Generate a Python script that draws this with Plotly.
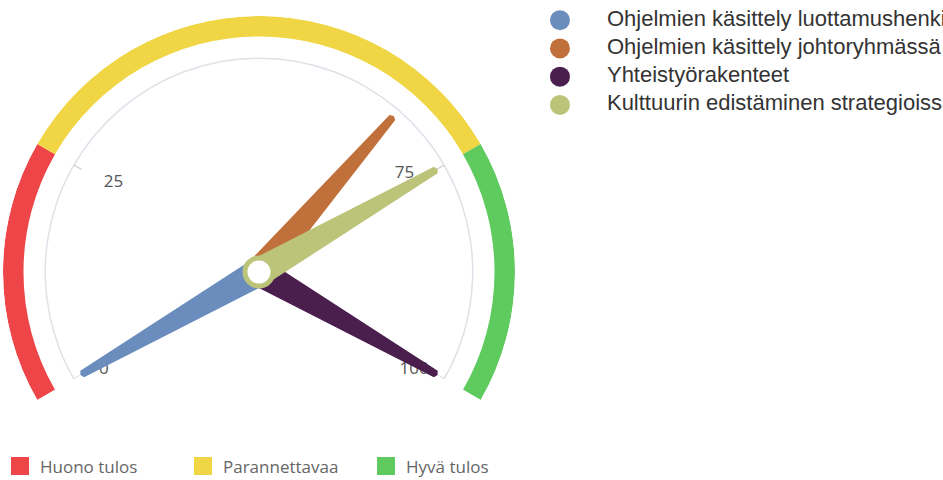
import plotly.graph_objects as go

# gauge needles (one per topic)
NEEDLE_NAMES = [
    "Ohjelmien käsittely luottamushenkilöiden kanssa",
    "Ohjelmien käsittely johtoryhmässä",
    "Yhteistyörakenteet",
    "Kulttuurin edistäminen strategioissa",
]
NEEDLE_VALUES = [0, 67, 100, 75]
NEEDLE_COLORS = ["#6a8dbe", "#c0703a", "#4a1f4e", "#bcc47a"]

# coloured bands
BAND_NAMES = ["Huono tulos", "Parannettavaa", "Hyvä tulos"]
BAND_FROM = [0, 25, 75]
BAND_TO = [25, 75, 100]
BAND_COLORS = ["#ee4549", "#f0d544", "#5fcb5f"]

# axis ticks
TICK_VALUES = [0, 25, 75, 100]
TICK_LABELS = ["0", "25", "75", "100"]
TICK_TEXTPOS = ["bottom center", "middle right", "top left", "bottom center"]

GAUGE_MIN, GAUGE_MAX = 0, 100
START_ANGLE, END_ANGLE = -120, 120


def to_deg(v):
    return START_ANGLE + (v - GAUGE_MIN) / (GAUGE_MAX - GAUGE_MIN) * (END_ANGLE - START_ANGLE)


fig = go.Figure()

# bands (polar: half-open gauge sector)
for name, lo, hi, col in zip(BAND_NAMES, BAND_FROM, BAND_TO, BAND_COLORS):
    fig.add_trace(go.Barpolar(
        r=[0.08], base=[0.92],
        theta=[to_deg((lo + hi) / 2)], width=[to_deg(hi) - to_deg(lo)],
        marker=dict(color=col, line=dict(width=0)),
        showlegend=False, hoverinfo="skip",
    ))
    fig.add_trace(go.Scatterpolar(
        r=[None], theta=[None], mode="markers", name=name,
        marker=dict(symbol="square", size=16, color=col, line=dict(width=2, color=col)),
        legend="legend2",
    ))

# thin grey scale arc
fig.add_trace(go.Barpolar(
    r=[0.006], base=[0.832], theta=[0], width=[END_ANGLE - START_ANGLE + 4],
    marker=dict(color="#e2e0e8", line=dict(width=0)),
    showlegend=False, hoverinfo="skip",
))

# tick marks and labels
for v in TICK_VALUES:
    fig.add_trace(go.Scatterpolar(
        r=[0.80, 0.835], theta=[to_deg(v)] * 2, mode="lines",
        line=dict(color="#d0d0d0", width=1.2),
        showlegend=False, hoverinfo="skip",
    ))
fig.add_trace(go.Scatterpolar(
    r=[0.70] * len(TICK_VALUES), theta=[to_deg(v) for v in TICK_VALUES],
    mode="text", text=TICK_LABELS, textposition=TICK_TEXTPOS,
    textfont=dict(family="Open Sans", size=17, color="#555555"),
    showlegend=False, hoverinfo="skip",
))

# needles (second, full-circle polar so the needle bases are not clipped)
BASE_R, TIP_R = 0.052, 0.795
for name, v, col in zip(NEEDLE_NAMES, NEEDLE_VALUES, NEEDLE_COLORS):
    a = to_deg(v)
    fig.add_trace(go.Scatterpolar(
        r=[BASE_R, TIP_R, TIP_R + 0.006, TIP_R, BASE_R],
        theta=[a + 90, a + 0.8, a, a - 0.8, a - 90],
        mode="lines", fill="toself", fillcolor=col,
        line=dict(color=col, width=2),
        subplot="polar2", showlegend=False, hoverinfo="skip",
    ))

# pivot
fig.add_trace(go.Scatterpolar(
    r=[0], theta=[0], mode="markers",
    marker=dict(size=28, color="white", line=dict(color=NEEDLE_COLORS[3], width=5)),
    subplot="polar2", showlegend=False, hoverinfo="skip",
))

# series key on the right (markers + names on a hidden category axis)
fig.add_trace(go.Scatter(
    x=[0] * len(NEEDLE_NAMES), y=NEEDLE_NAMES, mode="markers",
    marker=dict(size=20, color=NEEDLE_COLORS),
    showlegend=False, hoverinfo="skip", cliponaxis=False,
))
fig.add_trace(go.Scatter(
    x=[1] * len(NEEDLE_NAMES), y=NEEDLE_NAMES, mode="text",
    text=NEEDLE_NAMES, textposition="middle right",
    textfont=dict(family="Liberation Sans, Arial", size=22, color="#333333"),
    showlegend=False, hoverinfo="skip", cliponaxis=False,
))

angular = dict(visible=False, rotation=90, direction="clockwise")
fig.update_layout(
    width=943, height=480,
    margin=dict(l=0, r=0, t=0, b=0, autoexpand=False),
    paper_bgcolor="white",
    plot_bgcolor="rgba(0,0,0,0)",
    polar=dict(
        domain=dict(x=[0.00318, 0.54613], y=[0.16667, 0.96667]),
        sector=[-30, 210],
        bgcolor="white",
        radialaxis=dict(visible=False, range=[0, 1]),
        angularaxis=angular,
    ),
    polar2=dict(
        domain=dict(x=[0.05408, 0.49523], y=[0.0, 0.86667]),
        bgcolor="rgba(0,0,0,0)",
        radialaxis=dict(visible=False, range=[0, 0.8125]),
        angularaxis=angular,
    ),
    xaxis=dict(domain=[0.5726, 1.0], range=[-0.4255, 8.149], visible=False, fixedrange=True),
    yaxis=dict(domain=[0.752, 0.9875], range=[3.5, -0.5], type="category",
               visible=False, fixedrange=True),
    legend2=dict(
        orientation="h", x=0.0, y=0.028, xanchor="left", yanchor="middle",
        font=dict(family="Open Sans", size=17, color="#666666"),
        entrywidth=138, entrywidthmode="pixels",
        bgcolor="rgba(0,0,0,0)",
    ),
)

fig.write_html(
    "out.html",
    config={"displayModeBar": False},
    post_script="document.body.style.margin='0';",
)
